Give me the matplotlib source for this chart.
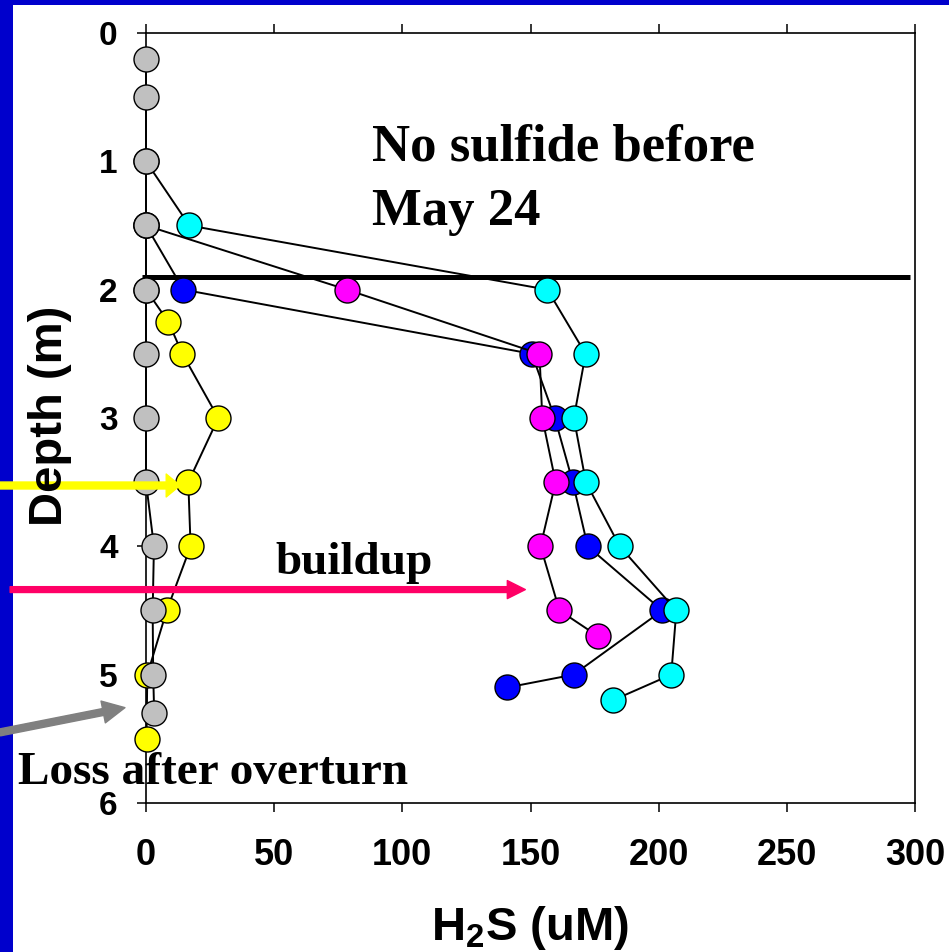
import matplotlib
matplotlib.use('Agg')
import matplotlib.pyplot as plt
from matplotlib.patches import Rectangle

plt.rcParams['font.family'] = 'Liberation Sans'
plt.rcParams['mathtext.fontset'] = 'custom'
plt.rcParams['mathtext.rm'] = 'Liberation Sans:bold'
plt.rcParams['mathtext.bf'] = 'Liberation Sans:bold'

# depth profiles of H2S (uM), one list pair per sampling date
gray_depth = [0.2, 0.5, 1.0, 1.5, 2.0, 2.5, 3.0, 3.5, 4.0, 4.5, 5.0, 5.3]
gray_h2s = [0, 0, 0, 0, 0, 0, 0, 0, 3.1, 2.6, 2.8, 3.2]

yellow_depth = [2.0, 2.25, 2.5, 3.0, 3.5, 4.0, 4.5, 5.0, 5.5]
yellow_h2s = [0, 8.7, 14.2, 28.2, 16.5, 17.4, 8.1, 0.5, 0.2]

blue_depth = [1.5, 2.0, 2.5, 3.0, 3.5, 4.0, 4.5, 5.0, 5.1]
blue_h2s = [0, 14.6, 150.5, 159.5, 166.5, 172.3, 201.4, 166.8, 140.9]

magenta_depth = [1.5, 2.0, 2.5, 3.0, 3.5, 4.0, 4.5, 4.7]
magenta_h2s = [0, 78.4, 153.5, 154.6, 159.8, 153.9, 161.3, 176.3]

cyan_depth = [1.0, 1.5, 2.0, 2.5, 3.0, 3.5, 4.0, 4.5, 5.0, 5.2]
cyan_h2s = [0, 16.9, 156.6, 171.5, 166.9, 171.6, 184.8, 206.9, 204.9, 182.1]

overturn_depth = 1.9
x_ticks = [0, 50, 100, 150, 200, 250, 300]
y_ticks = [0, 1, 2, 3, 4, 5, 6]

fig = plt.figure(figsize=(9.49, 9.52), dpi=100)
fig.patch.set_facecolor('white')
fig.patches.append(Rectangle((0, 0), 13 / 949, 1, transform=fig.transFigure,
                             facecolor='#0000CC', edgecolor='none', zorder=-5))
fig.patches.append(Rectangle((0, 1 - 5 / 952), 1, 5 / 952, transform=fig.transFigure,
                             facecolor='#0000CC', edgecolor='none', zorder=-5))

ax = fig.add_axes([146 / 949, 1 - 803 / 952, 769 / 949, 770 / 952])
ax.set_xlim(0, 300)
ax.set_ylim(6, 0)

ax.plot([-1.5, 298], [overturn_depth, overturn_depth], color='black', lw=3.6,
        solid_capstyle='butt', clip_on=False, zorder=2)

series = [
    (yellow_h2s, yellow_depth, '#FFFF00'),
    (blue_h2s, blue_depth, '#0000FF'),
    (magenta_h2s, magenta_depth, '#FF00FF'),
    (cyan_h2s, cyan_depth, '#00FFFF'),
    (gray_h2s, gray_depth, '#C0C0C0'),
]
for i, (xs, ys, c) in enumerate(series):
    ax.plot(xs, ys, color='black', lw=1.4, marker='o', markersize=18,
            markerfacecolor=c, markeredgecolor='black', markeredgewidth=1.0,
            clip_on=False, zorder=3 + i)

for s in ax.spines.values():
    s.set_linewidth(1.2)
ax.set_xticks(x_ticks)
ax.set_yticks(y_ticks)
ax.tick_params(axis='x', which='both', top=True, bottom=True, direction='out',
               length=6.5, width=1.1, labelsize=26, pad=19)
ax.tick_params(axis='y', left=True, right=False, direction='out',
               length=6.5, width=1.1, labelsize=24, pad=14)
for lab in ax.get_xticklabels() + ax.get_yticklabels():
    lab.set_fontweight('bold')

fig.text(50 / 949, 1 - 416 / 952, 'Depth (m)', rotation=90, ha='center', va='center',
         fontsize=34, fontweight='bold')
fig.text(530 / 949, 1 - 940 / 952, r'H$_{2}$S (uM)', ha='center', va='baseline',
         fontsize=34, fontweight='bold')

serif = dict(family='Liberation Serif', fontweight='bold')
ax.text(88.3, 0.991, 'No sulfide before', fontsize=38, va='baseline', ha='left', **serif)
ax.text(88.3, 1.498, 'May 24', fontsize=38, va='baseline', ha='left', **serif)
ax.text(50.4, 4.212, 'buildup', fontsize=34, va='baseline', ha='left', **serif)
ax.text(-50, 5.85, 'Loss after overturn', fontsize=34, va='baseline', ha='left',
        clip_on=False, zorder=10, **serif)

ax.annotate('', xy=(13.3, 3.526), xytext=(-57, 3.526), annotation_clip=False,
            arrowprops=dict(arrowstyle='simple,head_length=1.0,head_width=1.65,tail_width=0.5',
                            mutation_scale=10, color='#FFFF00', shrinkA=0, shrinkB=0),
            zorder=12)
ax.annotate('', xy=(148, 4.337), xytext=(-53, 4.337), annotation_clip=False,
            arrowprops=dict(arrowstyle='simple,head_length=1.3,head_width=1.3,tail_width=0.42',
                            mutation_scale=10, color='#FF0066', shrinkA=0, shrinkB=0),
            zorder=12)
ax.annotate('', xy=(-8.2, 5.257), xytext=(-57, 5.45), annotation_clip=False,
            arrowprops=dict(arrowstyle='simple,head_length=1.6,head_width=1.6,tail_width=0.5',
                            mutation_scale=10, color='#808080', shrinkA=0, shrinkB=0),
            zorder=12)

fig.savefig('out.png', dpi=100)
